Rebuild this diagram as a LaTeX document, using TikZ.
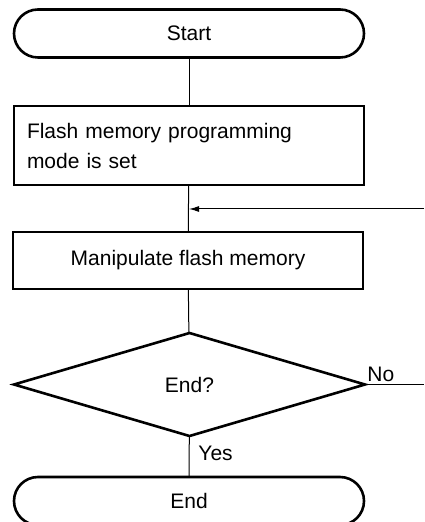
\documentclass[tikz,border=0pt]{standalone}
\usepackage{fontspec}
\setmainfont{Liberation Sans}
\usepackage{tikz}
\usetikzlibrary{arrows.meta,shapes.geometric}

\begin{document}
\begin{tikzpicture}[x=0.5pt,y=-0.5pt,
    font=\fontsize{10.5}{15}\selectfont,
    terminal/.style={draw,line width=1.3pt,rounded corners=12pt,
      minimum width=175pt,minimum height=24pt,inner sep=0pt,outer sep=0pt},
    process/.style={draw,line width=1.3pt,minimum width=175pt,inner sep=0pt,outer sep=0pt},
    decision/.style={draw,diamond,line width=1.3pt,minimum width=175.5pt,
      minimum height=51.5pt,inner sep=0pt,outer sep=0pt},
    flow/.style={line width=0.5pt}]
  % Flash memory manipulation flow

  \useasboundingbox (0,0) rectangle (424,522);

  \node[terminal] (start) at (189,33.5) {Start};
  \node[process,minimum height=39.5pt,text width=162pt,align=left,
        inner xsep=6.5pt] (setmode) at (189,145.5)
        {Flash memory programming\\mode is set};
  \node[process,minimum height=28.5pt] (manip) at (188,260.5) {Manipulate flash memory};
  \node[decision] (isend) at (189.5,384.5) {End?};
  \node[terminal] (stop) at (189,501) {End};

  \coordinate (join) at (189,209);
  \coordinate (back) at (424,209);
  \coordinate (noend) at (424,384.5);

  \draw[flow] (start) -- (setmode);
  \draw[flow] (setmode) -- (manip);
  \draw[flow,-{Latex[length=5pt,width=3pt]}] (back) -- (join);
  \draw[flow] (manip) -- (isend);
  \draw[flow] (isend) -- (stop);
  \draw[flow] (isend.east) -- (noend);

  \node[anchor=south west,inner sep=1pt] (nolabel) at (isend.east) {No};
  \node[anchor=west,inner sep=0pt] (yeslabel) at (198,453) {Yes};
\end{tikzpicture}
\end{document}
